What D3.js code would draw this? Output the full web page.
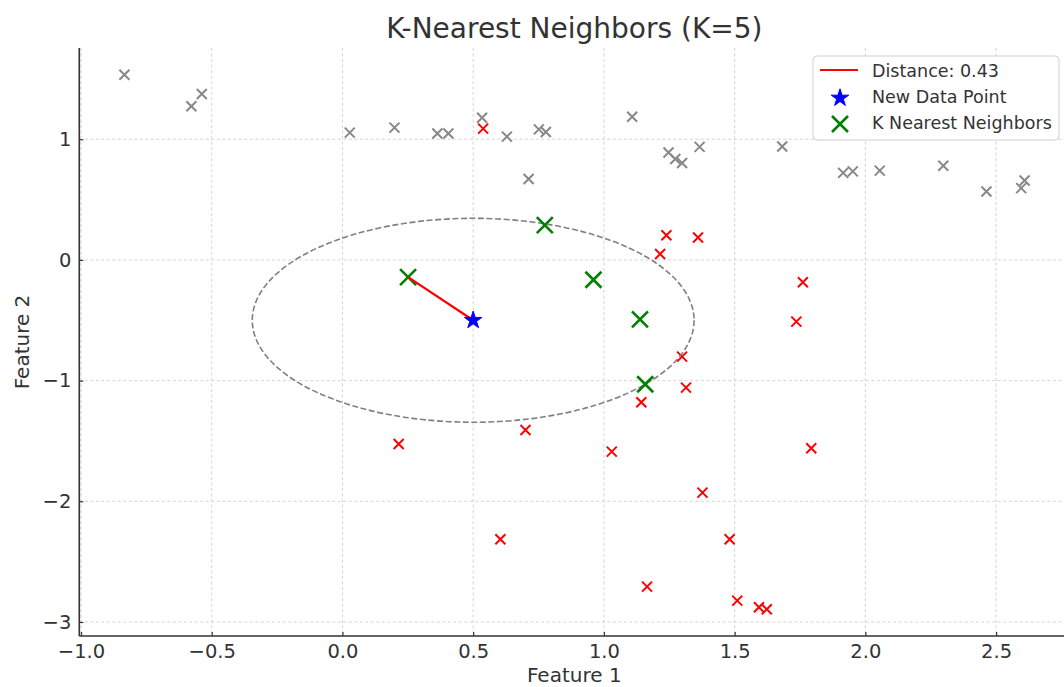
<!DOCTYPE html>
<html>
<head>
    <meta charset="utf-8">
    <title>K-Nearest Neighbors (K=5)</title>
    <script src="https://d3js.org/d3.v7.min.js"></script>
    <style>
        body { margin: 0; background: #fff; }
        text { font-family: "DejaVu Sans", sans-serif; fill: #333; }
    </style>
</head>
<body>
    <div id="chart"></div>
    <script>

        // class 0 points (gray)
        var grayX = [-0.834, -0.578, -0.538, 0.028, 0.199, 0.363, 0.405, 0.534, 0.629, 0.712, 0.751, 0.778, 1.108,
                     1.247, 1.273, 1.299, 1.366, 1.682, 1.915, 1.952, 2.055, 2.298, 2.463, 2.609, 2.596];
        var grayY = [1.534, 1.274, 1.375, 1.055, 1.096, 1.047, 1.047, 1.178, 1.022, 0.671, 1.082, 1.060, 1.186,
                     0.890, 0.836, 0.803, 0.937, 0.940, 0.721, 0.734, 0.740, 0.781, 0.567, 0.658, 0.595];

        // class 1 points (red)
        var redX = [0.538, 1.239, 1.360, 1.215, 1.761, 1.736, 1.299, 1.314, 1.143, 0.700, 0.215, 1.030, 1.793,
                    1.377, 0.604, 1.481, 1.165, 1.510, 1.593, 1.623];
        var redY = [1.088, 0.205, 0.186, 0.049, -0.185, -0.511, -0.801, -1.058, -1.179, -1.409, -1.525, -1.588, -1.561,
                    -1.928, -2.315, -2.315, -2.707, -2.823, -2.878, -2.895];

        // new point and its 5 nearest neighbours
        var newPoint = [0.5, -0.5];
        var nnX = [0.251, 0.960, 1.138, 0.774, 1.158];
        var nnY = [-0.142, -0.164, -0.492, 0.288, -1.030];

        var xTicks = [-1.0, -0.5, 0.0, 0.5, 1.0, 1.5, 2.0, 2.5];
        var yTicks = [-3, -2, -1, 0, 1];
        var legendLabels = ["Distance: 0.43", "New Data Point", "K Nearest Neighbors"];

        var W = 1064, H = 687;
        var pLeft = 79.3, pRight = 1069.3, pTop = 48, pBottom = 636;

        var svg = d3.select("#chart").append("svg")
            .attr("width", W)
            .attr("height", H);

        var x = d3.scaleLinear().domain([-1.0065, 2.78]).range([pLeft, pRight]);
        var y = d3.scaleLinear().domain([-3.116, 1.756]).range([pBottom, pTop]);

        // grid
        var grid = svg.append("g");
        grid.selectAll(".vx").data(xTicks).enter().append("line")
            .attr("x1", function(d) { return x(d); })
            .attr("x2", function(d) { return x(d); })
            .attr("y1", pTop).attr("y2", pBottom)
            .attr("stroke", "#cfcfcf").attr("stroke-width", 0.9)
            .attr("stroke-dasharray", "3,2.5");
        grid.selectAll(".hy").data(yTicks).enter().append("line")
            .attr("y1", function(d) { return y(d); })
            .attr("y2", function(d) { return y(d); })
            .attr("x1", pLeft).attr("x2", pRight)
            .attr("stroke", "#cfcfcf").attr("stroke-width", 0.9)
            .attr("stroke-dasharray", "3,2.5");

        function cross(g, xs, ys, color, half, sw) {
            g.selectAll(null).data(xs).enter().append("path")
                .attr("d", function(d, i) {
                    var cx = x(d), cy = y(ys[i]);
                    return "M" + (cx - half) + "," + (cy - half) + "L" + (cx + half) + "," + (cy + half) +
                           "M" + (cx - half) + "," + (cy + half) + "L" + (cx + half) + "," + (cy - half);
                })
                .attr("stroke", color)
                .attr("stroke-width", sw)
                .attr("fill", "none");
        }

        var pts = svg.append("g");
        cross(pts, grayX, grayY, "#888", 5, 2);
        cross(pts, redX, redY, "red", 5, 2);

        // circle through the farthest of the k neighbours
        var radius = d3.max(nnX, function(d, i) {
            return Math.hypot(d - newPoint[0], nnY[i] - newPoint[1]);
        });
        svg.append("ellipse")
            .attr("cx", x(newPoint[0]))
            .attr("cy", y(newPoint[1]))
            .attr("rx", x(newPoint[0] + radius) - x(newPoint[0]))
            .attr("ry", y(newPoint[1] - radius) - y(newPoint[1]))
            .attr("fill", "none")
            .attr("stroke", "gray")
            .attr("stroke-width", 1.6)
            .attr("stroke-dasharray", "6,2.6");

        cross(svg.append("g"), nnX, nnY, "green", 8, 2.6);

        // distance line to nearest neighbour
        svg.append("line")
            .attr("x1", x(nnX[0])).attr("y1", y(nnY[0]))
            .attr("x2", x(newPoint[0])).attr("y2", y(newPoint[1]))
            .attr("stroke", "red")
            .attr("stroke-width", 2.2);

        svg.append("path")
            .attr("d", d3.symbol().type(d3.symbolStar).size(95))
            .attr("transform", "translate(" + x(newPoint[0]) + "," + y(newPoint[1]) + ")")
            .attr("fill", "blue")
            .attr("stroke", "blue")
            .attr("stroke-width", 1);

        // axes
        var xAxis = svg.append("g")
            .attr("transform", "translate(0," + pBottom + ")")
            .call(d3.axisBottom(x).tickValues(xTicks).tickFormat(d3.format(".1f")).tickSizeInner(-4).tickSizeOuter(0).tickPadding(8));
        var yAxis = svg.append("g")
            .attr("transform", "translate(" + pLeft + ",0)")
            .call(d3.axisLeft(y).tickValues(yTicks).tickFormat(d3.format("d")).tickSizeInner(-4).tickSizeOuter(0).tickPadding(8));
        [xAxis, yAxis].forEach(function(a) {
            a.select(".domain").attr("stroke", "#333").attr("stroke-width", 1.6);
            a.selectAll(".tick line").attr("stroke", "#333").attr("stroke-width", 1.2);
            a.selectAll(".tick text").style("font-size", "19.5px").attr("fill", "#333");
        });
        xAxis.select(".domain").attr("d", "M" + pLeft + ",0H" + pRight);
        yAxis.select(".domain").attr("d", "M0," + pTop + "V" + pBottom);

        svg.append("text")
            .attr("x", (pLeft + pRight) / 2)
            .attr("y", 38)
            .attr("text-anchor", "middle")
            .style("font-size", "28px")
            .text("K-Nearest Neighbors (K=5)");

        svg.append("text")
            .attr("x", (pLeft + pRight) / 2)
            .attr("y", 682)
            .attr("text-anchor", "middle")
            .style("font-size", "20px")
            .text("Feature 1");

        svg.append("text")
            .attr("transform", "translate(29," + ((pTop + pBottom) / 2) + ") rotate(-90)")
            .attr("text-anchor", "middle")
            .style("font-size", "20px")
            .text("Feature 2");

        // legend
        var lg = svg.append("g").attr("transform", "translate(813,56)");
        lg.append("rect")
            .attr("width", 246).attr("height", 84).attr("rx", 4)
            .attr("fill", "white").attr("fill-opacity", 0.85)
            .attr("stroke", "#d0d0d0").attr("stroke-width", 1);
        lg.append("line")
            .attr("x1", 7).attr("x2", 45).attr("y1", 14).attr("y2", 14)
            .attr("stroke", "red").attr("stroke-width", 2.2);
        lg.append("path")
            .attr("d", d3.symbol().type(d3.symbolStar).size(95))
            .attr("transform", "translate(27,42)")
            .attr("fill", "blue").attr("stroke", "blue").attr("stroke-width", 1);
        lg.append("path")
            .attr("d", "M19,60L35,76M19,76L35,60")
            .attr("stroke", "green").attr("stroke-width", 2.6);
        lg.selectAll(".lt").data(legendLabels).enter().append("text")
            .attr("x", 59)
            .attr("y", function(d, i) { return 15 + i * 26; })
            .attr("dy", "0.35em")
            .style("font-size", "17.5px")
            .text(function(d) { return d; });

    </script>
</body>
</html>
